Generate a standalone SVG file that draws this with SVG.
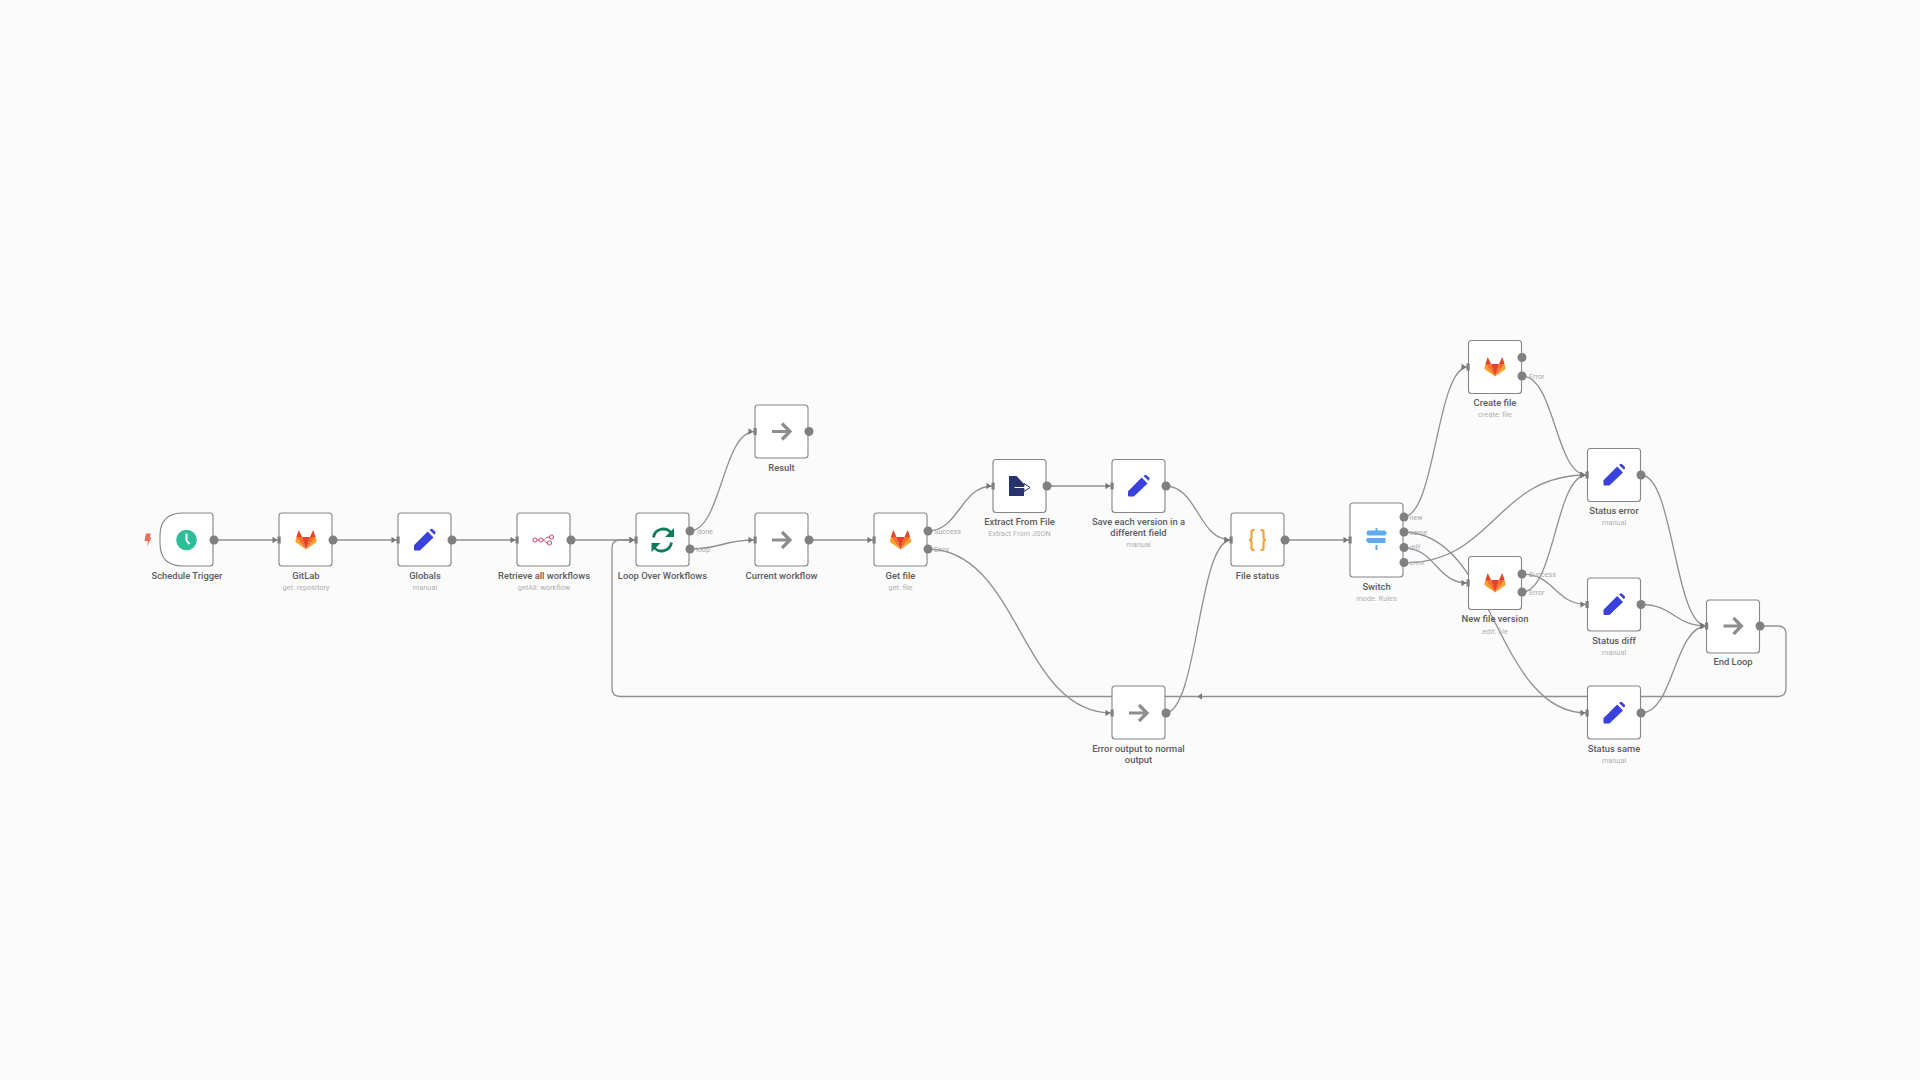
<svg xmlns="http://www.w3.org/2000/svg" width="1920" height="1080" viewBox="0 0 1920 1080">
<style>
text{font-family:Roboto,"Noto Sans","Liberation Sans",sans-serif;text-anchor:middle}
.l{font-size:9.4px;font-weight:500;fill:#5c5c60}
.s{font-size:7.4px;fill:#b0b0b0}
.p{font-size:7.2px;fill:#a8a8a8;text-anchor:start}
.c{fill:none;stroke:#909090;stroke-width:1.3;marker-end:url(#a)}
.b{fill:#fff;stroke:#85858b;stroke-width:1.1}
.o{fill:#808080}
.ar{fill:none;stroke:#8e8e8e;stroke-width:3.2}
</style>
<defs>
<marker id="a" markerUnits="userSpaceOnUse" markerWidth="9" markerHeight="9" refX="7.500" refY="4.500" orient="auto"><path d="M1 1.200 5.800 4.500 1 7.800z" fill="#777"/></marker>
<g id="gl">
<path d="M-9.600-3-7.200-10-4-3z" fill="#e24329"/><path d="M9.600-3 7.200-10 4-3z" fill="#e24329"/>
<path d="M-9.600-3-10.600 1Q-10.600 2-9.800 2.600L0 9.600z" fill="#fca326"/><path d="M9.600-3 10.600 1Q10.600 2 9.800 2.600L0 9.600z" fill="#fca326"/>
<path d="M0 9.600-9.600-3H-4z" fill="#fc6d26"/><path d="M0 9.600 9.600-3H4z" fill="#fc6d26"/>
<path d="M0 9.600-4-3H4z" fill="#e24329"/>
</g>
<g id="pen"><path d="M-10.500 5.200 3.200-8.400 9-2.600-4.600 10.600H-9.500Q-10.500 10.600-10.500 9.600z" fill="#3a40dc"/><path d="M5-10 6.600-11Q7.600-11.400 8.400-10.600L10.800-8.200Q11.400-7.400 10.800-6.600L10-5.200z" fill="#3a40dc"/></g>
<path id="arw" class="ar" d="M-9.500 0H8.500M0.500-8 8.500 0 0.500 8"/>
<path id="inp" class="o" d="M0-3.500h3.200v7h-3.200z"/>
</defs>
<rect width="1920" height="1080" fill="#fbfbfb"/>
<g id="connectors">
<path class="c" d="M213 540H279"/>
<path class="c" d="M332 540H398"/>
<path class="c" d="M451 540H517"/>
<path class="c" d="M570 540H636"/>
<path class="c" d="M689 531C722 531 722 431.500 755 431.500"/>
<path class="c" d="M689 549C722 549 722 540 755 540"/>
<path class="c" d="M808 540H874"/>
<path class="c" d="M927 531C960 531 960 486 993 486"/>
<path class="c" d="M927 549C1020 549 1020 713 1112 713"/>
<path class="c" d="M1046 486H1112"/>
<path class="c" d="M1165 486C1198 486 1198 540 1231 540"/>
<path class="c" d="M1165 713C1198 713 1198 540 1231 540"/>
<path class="c" d="M1284 540H1350"/>
<path class="c" d="M1403 517C1436 517 1436 367 1468 367"/>
<path class="c" d="M1403 532C1495 532 1495 713 1587 713"/>
<path class="c" d="M1403 548C1436 548 1436 583 1468 583"/>
<path class="c" d="M1403 563C1495 563 1495 475 1587 475"/>
<path class="c" d="M1522 376C1555 376 1555 475 1587 475"/>
<path class="c" d="M1522 574C1555 574 1555 604.500 1587 604.500"/>
<path class="c" d="M1522 592C1555 592 1555 475 1587 475"/>
<path class="c" d="M1641 475C1674 475 1674 626 1707 626"/>
<path class="c" d="M1641 604.500C1674 604.500 1674 626 1707 626"/>
<path class="c" d="M1641 713C1674 713 1674 626 1707 626"/>
<path class="c" d="M1759 626H1778Q1786 626 1786 634V688Q1786 696.500 1778 696.500H620Q612 696.500 612 688V548Q612 540 620 540H636"/>
<path d="M1197.500 696.500 1202 693.300V699.700z" fill="#777"/>
</g>
<g id="trigger">
<path class="b" d="M183 513H210Q213 513 213 516V563Q213 566 210 566H183Q160 566 160 543V536Q160 513 183 513z"/>
<circle class="o" cx="214" cy="540" r="4.500"/>
<path d="M146 533.500H151L149.500 537.500H151.500L147 546.500 148 541H144.500z" fill="#ee6a55"/>
<circle cx="186.500" cy="540" r="10.300" fill="#2dbd98"/><path d="M186.500 533.500V540.500L189.500 544" fill="none" stroke="#fff" stroke-width="2"/>
<text class="l" x="187" y="579">Schedule Trigger</text>
</g>
<g id="gitlab"><rect class="b" x="279" y="513" width="53" height="53" rx="3"/><use href="#inp" x="277.500" y="540"/><circle class="o" cx="333" cy="540" r="4.500"/><use href="#gl" x="306" y="540"/><text class="l" x="306" y="579">GitLab</text><text class="s" x="306" y="590">get: repository</text></g>
<g id="globals"><rect class="b" x="398" y="513" width="53" height="53" rx="3"/><use href="#inp" x="396.500" y="540"/><circle class="o" cx="452" cy="540" r="4.500"/><use href="#pen" x="424.500" y="540"/><text class="l" x="425" y="579">Globals</text><text class="s" x="425" y="590">manual</text></g>
<g id="retrieve"><rect class="b" x="517" y="513" width="53" height="53" rx="3"/><use href="#inp" x="515.500" y="540"/><circle class="o" cx="571" cy="540" r="4.500"/>
<g fill="none" stroke="#c8466f" stroke-width="1"><circle cx="535" cy="540" r="2.100"/><circle cx="541" cy="540" r="2.100"/><circle cx="551.500" cy="537" r="2.100"/><circle cx="549.500" cy="543" r="2.100"/><path d="M537 540h2M543 540c2.500 0 2-3 6.500-3M543 540c2 0 2 3 4.500 3"/></g>
<text class="l" x="544" y="579">Retrieve all workflows</text><text class="s" x="544" y="590">getAll: workflow</text></g>
<g id="loop"><rect class="b" x="636" y="513" width="53" height="53" rx="3"/><use href="#inp" x="634.500" y="540"/><circle class="o" cx="690" cy="531" r="4.500"/><circle class="o" cx="690" cy="549" r="4.500"/>
<g fill="none" stroke="#0f7a5c" stroke-width="2.800"><path d="M653.500 537.500C655 528 668 526 671.500 534"/><path d="M671.500 542.500C670 552 657 554 653.500 546"/></g><path d="M674 528V537H665zM651.500 552V543H660.500z" fill="#0f7a5c"/>
<text class="l" x="662.500" y="579">Loop Over Workflows</text><text class="p" x="697" y="533.500">done</text><text class="p" x="696" y="551.500">loop</text></g>
<g id="result"><rect class="b" x="755" y="405" width="53" height="53" rx="3"/><use href="#inp" x="753.500" y="431.500"/><circle class="o" cx="809" cy="431.500" r="4.500"/><use href="#arw" x="781.500" y="431.500"/><text class="l" x="781.500" y="471">Result</text></g>
<g id="current"><rect class="b" x="755" y="513" width="53" height="53" rx="3"/><use href="#inp" x="753.500" y="540"/><circle class="o" cx="809" cy="540" r="4.500"/><use href="#arw" x="781.500" y="540"/><text class="l" x="781.500" y="579">Current workflow</text></g>
<g id="getfile"><rect class="b" x="874" y="513" width="53" height="53" rx="3"/><use href="#inp" x="872.500" y="540"/><circle class="o" cx="928" cy="531" r="4.500"/><circle class="o" cx="928" cy="549" r="4.500"/><use href="#gl" x="900.500" y="540"/><text class="l" x="900.500" y="579">Get file</text><text class="s" x="900.500" y="590">get: file</text><text class="p" x="934" y="533.500">Success</text><text class="p" x="934" y="551.500">Error</text></g>
<g id="extract"><rect class="b" x="993" y="459.500" width="53" height="53" rx="3"/><use href="#inp" x="991.500" y="486"/><circle class="o" cx="1047" cy="486" r="4.500"/>
<path d="M1009 476H1016.500L1024 484V496H1009z" fill="#28336e"/><path d="M1014 486.500H1024V483.500L1030 487.500 1024 491.500V488.500H1014z" fill="#fff" stroke="#28336e" stroke-width="1"/>
<text class="l" x="1019.500" y="525">Extract From File</text><text class="s" x="1019.500" y="536">Extract From JSON</text></g>
<g id="save"><rect class="b" x="1112" y="459.500" width="53" height="53" rx="3"/><use href="#inp" x="1110.500" y="486"/><circle class="o" cx="1166" cy="486" r="4.500"/><use href="#pen" x="1138.500" y="486"/><text class="l" x="1138.500" y="525">Save each version in a</text><text class="l" x="1138.500" y="536">different field</text><text class="s" x="1138.500" y="547">manual</text></g>
<g id="filestatus"><rect class="b" x="1231" y="513" width="53" height="53" rx="3"/><use href="#inp" x="1229.500" y="540"/><circle class="o" cx="1285" cy="540" r="4.500"/>
<path d="M1254.500 530H1253.500Q1251.500 530 1251.500 532V537Q1251.500 540 1249 540Q1251.500 540 1251.500 543V548Q1251.500 550 1253.500 550H1254.500M1260.500 530H1261.500Q1263.500 530 1263.500 532V537Q1263.500 540 1266 540Q1263.500 540 1263.500 543V548Q1263.500 550 1261.500 550H1260.500" fill="none" stroke="#f0a43a" stroke-width="2.200"/>
<text class="l" x="1257.500" y="579">File status</text></g>
<g id="switch"><rect class="b" x="1350" y="503" width="53" height="74" rx="3"/><use href="#inp" x="1348.500" y="540"/>
<circle class="o" cx="1404" cy="517" r="4.500"/><circle class="o" cx="1404" cy="532" r="4.500"/><circle class="o" cx="1404" cy="547.500" r="4.500"/><circle class="o" cx="1404" cy="562.500" r="4.500"/>
<path d="M1375.500 528H1377.500V530.500H1385L1387 533 1385 535.500H1367.500L1366.500 533 1367.500 530.500H1375.500zM1367 538H1385.500V543H1368L1366 540.500zM1375.500 545H1377.500V550H1375.500z" fill="#5fa9ee"/>
<text class="l" x="1376.500" y="590">Switch</text><text class="s" x="1376.500" y="601">mode: Rules</text>
<text class="p" x="1409.500" y="519.500">new</text><text class="p" x="1409.500" y="535">same</text><text class="p" x="1409.500" y="550">diff</text><text class="p" x="1409.500" y="565">error</text></g>
<g id="createfile"><rect class="b" x="1468.500" y="340.500" width="53" height="53" rx="3"/><use href="#inp" x="1466.500" y="367"/><circle class="o" cx="1522" cy="357.500" r="4.500"/><circle class="o" cx="1522" cy="376" r="4.500"/><use href="#gl" x="1495" y="367"/><text class="l" x="1495" y="406">Create file</text><text class="s" x="1495" y="417">create: file</text><text class="p" x="1529" y="378.500">Error</text></g>
<g id="newfile"><rect class="b" x="1468.500" y="556.500" width="53" height="53" rx="3"/><use href="#inp" x="1466.500" y="583"/><circle class="o" cx="1522" cy="574" r="4.500"/><circle class="o" cx="1522" cy="592" r="4.500"/><use href="#gl" x="1495" y="583"/><text class="l" x="1495" y="622">New file version</text><text class="s" x="1495" y="634">edit: file</text><text class="p" x="1529" y="576.500">Success</text><text class="p" x="1529" y="594.500">Error</text></g>
<g id="statuserror"><rect class="b" x="1587.500" y="448.500" width="53" height="53" rx="3"/><use href="#inp" x="1585.500" y="475"/><circle class="o" cx="1641" cy="475" r="4.500"/><use href="#pen" x="1614" y="475"/><text class="l" x="1614" y="514">Status error</text><text class="s" x="1614" y="525">manual</text></g>
<g id="statusdiff"><rect class="b" x="1587.500" y="578" width="53" height="53" rx="3"/><use href="#inp" x="1585.500" y="604.500"/><circle class="o" cx="1641" cy="604.500" r="4.500"/><use href="#pen" x="1614" y="604.500"/><text class="l" x="1614" y="644">Status diff</text><text class="s" x="1614" y="655">manual</text></g>
<g id="statussame"><rect class="b" x="1587.500" y="686" width="53" height="53" rx="3"/><use href="#inp" x="1585.500" y="713"/><circle class="o" cx="1641" cy="713" r="4.500"/><use href="#pen" x="1614" y="713"/><text class="l" x="1614" y="752">Status same</text><text class="s" x="1614" y="763">manual</text></g>
<g id="endloop"><rect class="b" x="1706.500" y="600" width="53" height="53" rx="3"/><use href="#inp" x="1705" y="626"/><circle class="o" cx="1760" cy="626" r="4.500"/><use href="#arw" x="1733" y="626"/><text class="l" x="1733" y="665">End Loop</text></g>
<g id="erroroutput"><rect class="b" x="1112" y="686" width="53" height="53" rx="3"/><use href="#inp" x="1110.500" y="713"/><circle class="o" cx="1166" cy="713" r="4.500"/><use href="#arw" x="1138.500" y="713"/><text class="l" x="1138.500" y="752">Error output to normal</text><text class="l" x="1138.500" y="763">output</text></g>
</svg>
